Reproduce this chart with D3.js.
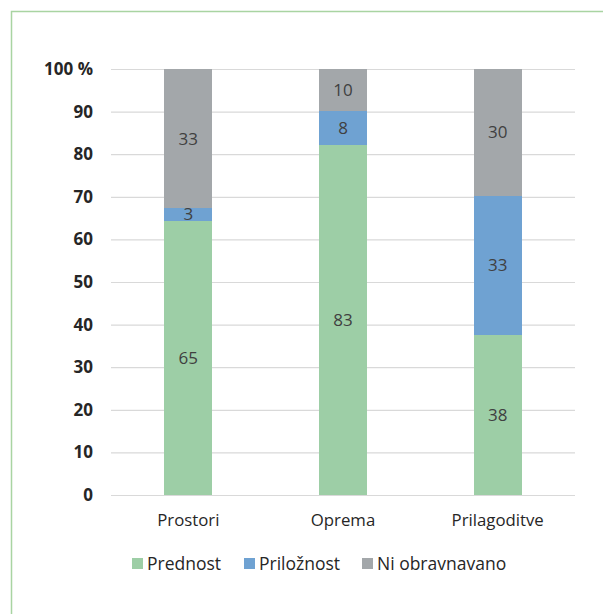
<!DOCTYPE html>
<html><head><meta charset="utf-8">
<script src="https://cdn.jsdelivr.net/npm/d3@7/dist/d3.min.js"></script>
<style>
html,body{margin:0;padding:0;background:#fff;}
svg{display:block;}
text{font-family:"Open Sans","Noto Sans",sans-serif;}
</style></head><body>
<script>
const categories = ["Prostori", "Oprema", "Prilagoditve"];
const seriesNames = ["Prednost", "Priložnost", "Ni obravnavano"];
const prednost = [65, 83, 38];
const priloznost = [3, 8, 33];
const niObravnavano = [33, 10, 30];
const yTicks = [0, 10, 20, 30, 40, 50, 60, 70, 80, 90, 100];
const colors = ["#9dcea6", "#6fa2d2", "#a3a7aa"];

const W = 603, H = 614;
const svg = d3.select("body").append("svg").attr("width", W).attr("height", H);

// frame
svg.append("path").attr("d", `M11.5,${H} L11.5,11.5 L${W},11.5`)
  .attr("fill", "none").attr("stroke", "#a9d4a2").attr("stroke-width", 1.5);

const x0 = 111, x1 = 575, yTop = 69, yBot = 495;
const x = d3.scaleBand().domain(categories).range([x0, x1]).paddingInner(0.69).paddingOuter(0.345);
const y = d3.scaleLinear().domain([0, 100]).range([yBot, yTop]);

// grid
svg.append("g").selectAll("line").data(yTicks).join("line")
  .attr("x1", x0).attr("x2", x1)
  .attr("y1", d => y(d) + 0.5).attr("y2", d => y(d) + 0.5)
  .attr("stroke", "#d9d9d9").attr("stroke-width", 1.2);

// y axis labels
const yAxis = d3.axisLeft(y).tickValues(yTicks).tickSize(0).tickPadding(18)
  .tickFormat(d => d === 100 ? "100 %" : d);
const ya = svg.append("g").attr("transform", `translate(${x0},0)`).call(yAxis);
ya.select(".domain").remove();
ya.selectAll("text").attr("font-size", 17).attr("font-weight", "bold").attr("fill", "#262626")
  .attr("font-family", "\"Open Sans\",sans-serif");

// stacked data normalized
const rows = categories.map((c, i) => ({cat: c, "Prednost": prednost[i], "Priložnost": priloznost[i], "Ni obravnavano": niObravnavano[i]}));
const stack = d3.stack().keys(seriesNames).offset(d3.stackOffsetExpand);
const stacked = stack(rows);

const g = svg.append("g");
stacked.forEach((s, si) => {
  g.append("g").selectAll("rect").data(s).join("rect")
    .attr("x", d => x(d.data.cat))
    .attr("width", x.bandwidth())
    .attr("y", d => y(d[1] * 100))
    .attr("height", d => y(d[0] * 100) - y(d[1] * 100))
    .attr("shape-rendering", "crispEdges")
    .attr("fill", colors[si]);
});
stacked.forEach((s, si) => {
  g.append("g").selectAll("text").data(s).join("text")
    .attr("x", d => x(d.data.cat) + x.bandwidth() / 2)
    .attr("y", d => (y(d[0] * 100) + y(d[1] * 100)) / 2)
    .attr("dy", "0.35em")
    .attr("text-anchor", "middle")
    .attr("font-size", 17).attr("fill", "#404040")
    .text(d => d.data[seriesNames[si]]);
});

// x axis labels
const xAxis = d3.axisBottom(x).tickSize(0).tickPadding(19);
const xa = svg.append("g").attr("transform", `translate(0,${yBot})`).call(xAxis);
xa.select(".domain").remove();
xa.selectAll("text").attr("font-size", 16.8).attr("fill", "#262626")
  .attr("font-family", "\"Open Sans\",sans-serif");

// legend
const legX = [132, 244, 362];
const lg = svg.append("g");
seriesNames.forEach((n, i) => {
  lg.append("rect").attr("x", legX[i]).attr("y", 558).attr("width", 11).attr("height", 11).attr("fill", colors[i]);
  lg.append("text").attr("x", legX[i] + 15).attr("y", 563.5).attr("dy", "0.35em")
    .attr("font-size", 17.5).attr("fill", "#262626").text(n);
});
</script>
</body></html>
